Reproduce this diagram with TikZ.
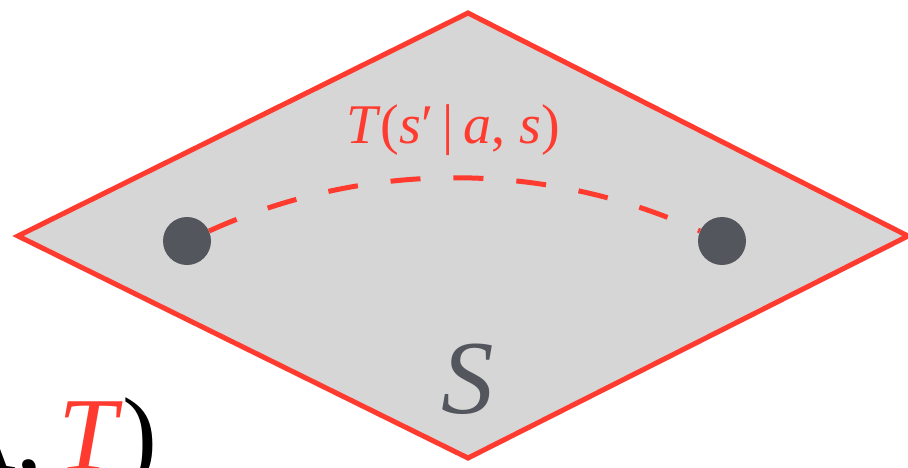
\documentclass[tikz,border=0pt]{standalone}
\usepackage{fontspec}
\setmainfont{Liberation Serif}
\usetikzlibrary{positioning,shadows}
\definecolor{edge}{RGB}{255,59,48}
\definecolor{plane}{RGB}{214,214,214}
\definecolor{slate}{RGB}{83,86,92}
\tikzset{
  state/.style={circle,fill=slate,minimum size=48pt,inner sep=0pt},
  trans/.style={edge,line width=5pt,dash pattern=on 30pt off 33pt}
}
\begin{document}
\begin{tikzpicture}[x=1pt,y=-1pt]
\useasboundingbox (0,0) rectangle (908,467);
% state space
\draw[edge,line width=5pt,fill=plane,drop shadow={opacity=0.12,shadow xshift=0pt,shadow yshift=-3pt}]
  (468,13)--(908,236)--(468,458)--(18,236)--cycle;
% states
\node[state] (s1) at (187,241) {};
\node[state] (s2) at (722,241) {};
\coordinate (c1) at (366,160);
\coordinate (c2) at (544,160);
\draw[trans] (s1) .. controls (c1) and (c2) .. (s2);
% labels
\node[edge,anchor=base,inner sep=0pt,font=\fontsize{56}{60}\selectfont] (tlab) at (453,143)
  {\textit{T}(\textit{s}′\,|\,\textit{a}, \textit{s})};
\node[slate,anchor=base,inner sep=0pt,font=\fontsize{105}{110}\selectfont] (slab) at (468,413)
  {\textit{S}};
\node[anchor=base east,inner sep=0pt,font=\fontsize{105}{110}\selectfont] (tuple) at (158,470)
  {A,\kern0.15em\textcolor{edge}{\textit{T}})};
\end{tikzpicture}
\end{document}
